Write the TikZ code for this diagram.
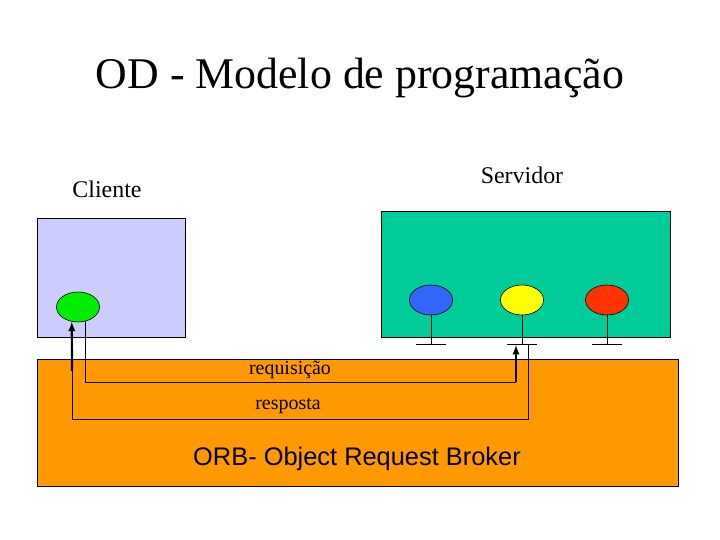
\documentclass[tikz,border=0pt]{standalone}
\usepackage{fontspec}
\setmainfont{Liberation Serif}
\newfontfamily\orbfont{Liberation Sans}
\usepackage{tikz}
\usetikzlibrary{arrows,shapes}
\definecolor{lavanda}{HTML}{CCCCFF}
\definecolor{verdeagua}{HTML}{00CC99}
\definecolor{laranja}{HTML}{FF9900}
\definecolor{verdeobj}{HTML}{00EE00}
\definecolor{azulobj}{HTML}{3366FF}
\definecolor{amareloobj}{HTML}{FFFF00}
\definecolor{vermelhoobj}{HTML}{FF3300}
\tikzstyle{box} = [rectangle, draw, line width=0.9pt, anchor=north west,
    inner sep=0pt]
\tikzstyle{obj} = [ellipse, draw, line width=0.6pt, minimum width=43bp,
    minimum height=30bp, inner sep=0pt]
\tikzstyle{wire} = [black, line width=0.8pt]
\tikzstyle{flow} = [-latex, black, line width=2.2pt]
\tikzstyle{rotulo} = [font=\fontsize{20}{22}\selectfont, inner sep=0pt]

\begin{document}
\begin{tikzpicture}[x=1bp, y=-1bp]
    \useasboundingbox (0,0) rectangle (720,540);
    % Place nodes
    \node [font=\fontsize{44}{48}\selectfont] (titulo) at (360,78)
    {OD - Modelo de programação};
    \node [box, fill=lavanda, minimum width=148bp, minimum height=119bp]
    (cliente) at (37,218) {};
    \node [box, fill=verdeagua, minimum width=289bp, minimum height=126bp]
    (servidor) at (381,211) {};
    \node [box, fill=laranja, minimum width=641bp, minimum height=127bp]
    (orb) at (37,359) {};
    \node [font=\fontsize{24}{26}\selectfont] (lcliente) at (107,189) {Cliente};
    \node [font=\fontsize{24}{26}\selectfont] (lservidor) at (522,175) {Servidor};
    \node [font=\orbfont\fontsize{25.5}{28}\selectfont] (lorb) at (357,459)
    {ORB- Object Request Broker};
    \node [obj, fill=verdeobj] (verde) at (78,307) {};
    \node [obj, fill=azulobj] (azul) at (431,300) {};
    \node [obj, fill=amareloobj] (amarelo) at (522,300) {};
    \node [obj, fill=vermelhoobj] (vermelho) at (607,300) {};
    % Bases of the server objects
    \coordinate (azul-base) at (azul |- 0,344);
    \coordinate (amarelo-base) at (amarelo |- 0,344);
    \coordinate (vermelho-base) at (vermelho |- 0,344);
    \draw [wire] (azul) -- (azul-base) +(-15,0) -- +(15,0);
    \draw [wire] (amarelo) -- (amarelo-base) +(-15,0) -- +(15,0);
    \draw [wire] (vermelho) -- (vermelho-base) +(-15,0) -- +(15,0);
    % Draw edges
    \coordinate (req) at (516,382);
    \coordinate (req-fim) at (516,345);
    \coordinate (resp-ini) at (528,344);
    \coordinate (resp) at (72,419);
    \coordinate (resp-sobe) at (72,371);
    \draw [wire] (verde.297) |- (req);
    \draw [flow] (req) -- (req-fim);
    \draw [wire] (resp-ini) |- (resp) -- (resp-sobe);
    \draw [flow] (resp-sobe) -- (verde.247);
    \node [rotulo] (lreq) at (290,370) {requisição};
    \node [rotulo] (lresp) at (288,406) {resposta};
\end{tikzpicture}
\end{document}
